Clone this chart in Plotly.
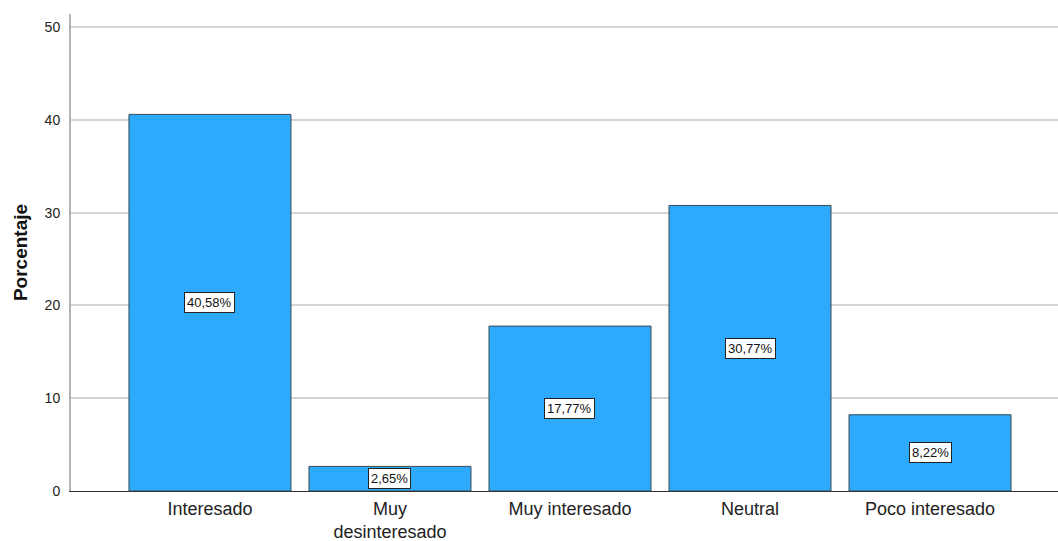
import plotly.graph_objects as go

categorias = ["Interesado", "Muy<br>desinteresado", "Muy interesado", "Neutral", "Poco interesado"]
porcentajes = [40.58, 2.65, 17.77, 30.77, 8.22]
etiquetas = ["40,58%", "2,65%", "17,77%", "30,77%", "8,22%"]
y_ticks = [0, 10, 20, 30, 40, 50]

x_pos = list(range(len(categorias)))

fig = go.Figure()
fig.add_trace(go.Bar(
    x=x_pos,
    y=porcentajes,
    width=0.9,
    marker=dict(color="#2EAAFC", line=dict(color="#3a4a55", width=1)),
    hoverinfo="skip",
))

for xi, v, t in zip(x_pos, porcentajes, etiquetas):
    fig.add_annotation(
        x=xi, y=v / 2, text=t, showarrow=False,
        font=dict(family="Arial, Liberation Sans", size=13, color="#111"),
        bgcolor="white", bordercolor="#222", borderwidth=1, borderpad=2,
    )

fig.update_layout(
    width=1058, height=541,
    margin=dict(l=71, r=0, t=14, b=50, autoexpand=False),
    paper_bgcolor="white", plot_bgcolor="white",
    showlegend=False,
    font=dict(family="Arial, Liberation Sans", color="#222"),
)
fig.update_xaxes(
    range=[-0.772, 4.711],
    tickmode="array", tickvals=x_pos, ticktext=categorias,
    tickfont=dict(size=18, color="#222"),
    showgrid=False, zeroline=False,
    showline=True, linecolor="#333", linewidth=1,
    ticks="", ticklabelstandoff=1, automargin=False,
)
fig.update_yaxes(
    range=[0, 51.4],
    tickmode="array", tickvals=y_ticks,
    tickfont=dict(size=14, color="#222"),
    showgrid=True, gridcolor="#d4d4d4", gridwidth=1.5,
    zeroline=False,
    showline=True, linecolor="#b4b4b4", linewidth=2,
    ticks="", ticklabelstandoff=6, automargin=False,
    title=dict(text="<b>Porcentaje</b>", font=dict(size=19, color="#111"), standoff=12),
)

fig.write_html("out.html")
